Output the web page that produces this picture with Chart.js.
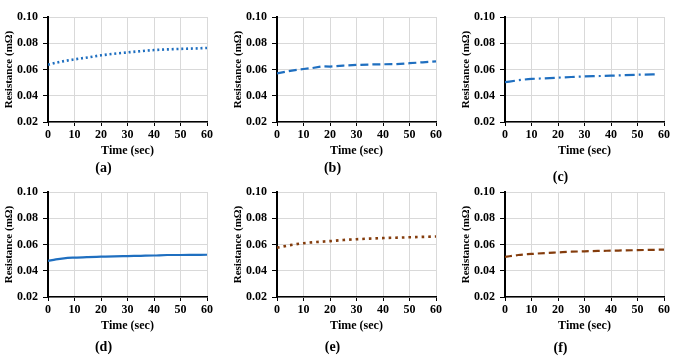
<!DOCTYPE html>
<html>
<head>
<meta charset="utf-8">
<script src="https://cdn.jsdelivr.net/npm/chart.js@4"></script>
<style>
  html, body { margin: 0; padding: 0; background: #ffffff; }
  #wrap { position: relative; width: 680px; height: 360px; overflow: hidden; background: #fff; }
  canvas { position: absolute; }
</style>
</head>
<body>
<div id="wrap"></div>
<script>
// ---- data ----
const timeCommon = [0, 5, 10, 15, 20, 25, 30, 35, 40, 45, 50, 55, 60];
const resA = [0.0637, 0.0660, 0.0677, 0.0692, 0.0708, 0.0720, 0.0730, 0.0740, 0.0748, 0.0753, 0.0757, 0.0760, 0.0764];

const timeB = [0, 5, 10, 13, 17, 20, 25, 30, 35, 40, 45, 50, 55, 60];
const resB = [0.0571, 0.0590, 0.0604, 0.0610, 0.0624, 0.0622, 0.0630, 0.0635, 0.0638, 0.0640, 0.0641, 0.0648, 0.0655, 0.0662];

const timeC = [0, 5, 10, 15, 20, 25, 30, 35, 40, 45, 50, 58];
const resC = [0.0503, 0.0518, 0.0528, 0.0533, 0.0538, 0.0543, 0.0547, 0.0550, 0.0553, 0.0557, 0.0560, 0.0563];

const timeD = [0, 3, 6, 10, 15, 20, 25, 30, 35, 40, 45, 50, 55, 60];
const resD = [0.0475, 0.0487, 0.0495, 0.0500, 0.0504, 0.0507, 0.0510, 0.0512, 0.0514, 0.0516, 0.0520, 0.0520, 0.0521, 0.0522];

const resE = [0.0576, 0.0595, 0.0610, 0.0619, 0.0626, 0.0634, 0.0640, 0.0645, 0.0649, 0.0652, 0.0655, 0.0658, 0.0661];
const resF = [0.0505, 0.0520, 0.0528, 0.0535, 0.0540, 0.0545, 0.0548, 0.0551, 0.0553, 0.0555, 0.0557, 0.0559, 0.0561];

const panelLabels = ['(a)', '(b)', '(c)', '(d)', '(e)', '(f)'];
const xTitle = 'Time (sec)';
const yTitle = 'Resistance (mΩ)';

// ---- styling ----
const BLUE = '#1f6fc0';
const BROWN = '#843c0c';
const FONT = '"Liberation Serif", "Times New Roman", serif';

const panels = [
  { t: timeCommon, r: resA, left: 0,   top: 0,   color: BLUE,  width: 2.6, dash: [2, 2.8], cap: 'butt', tension: 0.3, labelTop: 0 },
  { t: timeB,      r: resB, left: 229, top: 0,   color: BLUE,  width: 2.2, dash: [8, 4],   cap: 'butt', tension: 0,   labelTop: 0 },
  { t: timeC,      r: resC, left: 457, top: 0,   color: BLUE,  width: 2.2, dash: [10, 4, 2, 4], cap: 'butt', tension: 0.3, labelTop: 8.6 },
  { t: timeD,      r: resD, left: 0,   top: 175, color: BLUE,  width: 2.2, dash: [],      cap: 'butt', tension: 0.3, labelTop: 3.6 },
  { t: timeCommon, r: resE, left: 229, top: 175, color: BROWN, width: 2.6, dash: [2.6, 4], cap: 'butt', tension: 0.3, labelTop: 3.6 },
  { t: timeCommon, r: resF, left: 457, top: 175, color: BROWN, width: 2.2, dash: [7, 4],   cap: 'butt', tension: 0.3, labelTop: 4.6 }
];

const CW = 222, CH = 190;
const wrap = document.getElementById('wrap');

panels.forEach((p, i) => {
  const cv = document.createElement('canvas');
  cv.width = CW; cv.height = CH;
  cv.style.left = p.left + 'px';
  cv.style.top = p.top + 'px';
  cv.style.width = CW + 'px';
  cv.style.height = CH + 'px';
  wrap.appendChild(cv);

  const pts = p.t.map((x, k) => ({ x: x, y: p.r[k] }));

  new Chart(cv.getContext('2d'), {
    type: 'line',
    data: {
      datasets: [{
        data: pts,
        borderColor: p.color,
        borderWidth: p.width,
        borderDash: p.dash,
        borderCapStyle: p.cap,
        pointRadius: 0,
        fill: false,
        tension: p.tension,
        cubicInterpolationMode: p.tension ? 'monotone' : 'default'
      }]
    },
    options: {
      responsive: false,
      animation: false,
      devicePixelRatio: 1,
      layout: { padding: { top: 17, right: 15, left: 0, bottom: 0 } },
      plugins: {
        legend: { display: false },
        tooltip: { enabled: false },
        title: {
          display: true,
          position: 'bottom',
          text: panelLabels[i],
          color: '#000',
          font: { family: FONT, size: 14, weight: 'bold' },
          padding: { top: p.labelTop, bottom: 13.2 - p.labelTop }
        }
      },
      scales: {
        x: {
          type: 'linear',
          min: 0, max: 60,
          ticks: {
            stepSize: 10,
            color: '#000',
            padding: 2,
            maxRotation: 0,
            font: { family: FONT, size: 12, weight: 'bold' }
          },
          grid: { color: '#d9d9d9', lineWidth: 1, tickLength: 4, tickColor: '#000' },
          border: { color: '#000', width: 1.5 },
          title: {
            display: true,
            text: xTitle,
            color: '#000',
            font: { family: FONT, size: 12, weight: 'bold' },
            padding: { top: 0, bottom: 2 }
          },
          afterFit: (s) => { s.height = 38; }
        },
        y: {
          min: 0.02, max: 0.10,
          ticks: {
            stepSize: 0.02,
            color: '#000',
            padding: 5,
            font: { family: FONT, size: 12, weight: 'bold' },
            callback: (v) => Number(v).toFixed(2)
          },
          grid: { color: '#d9d9d9', lineWidth: 1, tickLength: 5, tickColor: '#000' },
          border: { color: '#000', width: 2 },
          title: {
            display: true,
            text: yTitle,
            color: '#000',
            font: { family: FONT, size: 11, weight: 'bold' },
            padding: { top: 3, bottom: 0 }
          },
          afterFit: (s) => { s.width = 48; }
        }
      }
    }
  });
});
</script>
</body>
</html>
